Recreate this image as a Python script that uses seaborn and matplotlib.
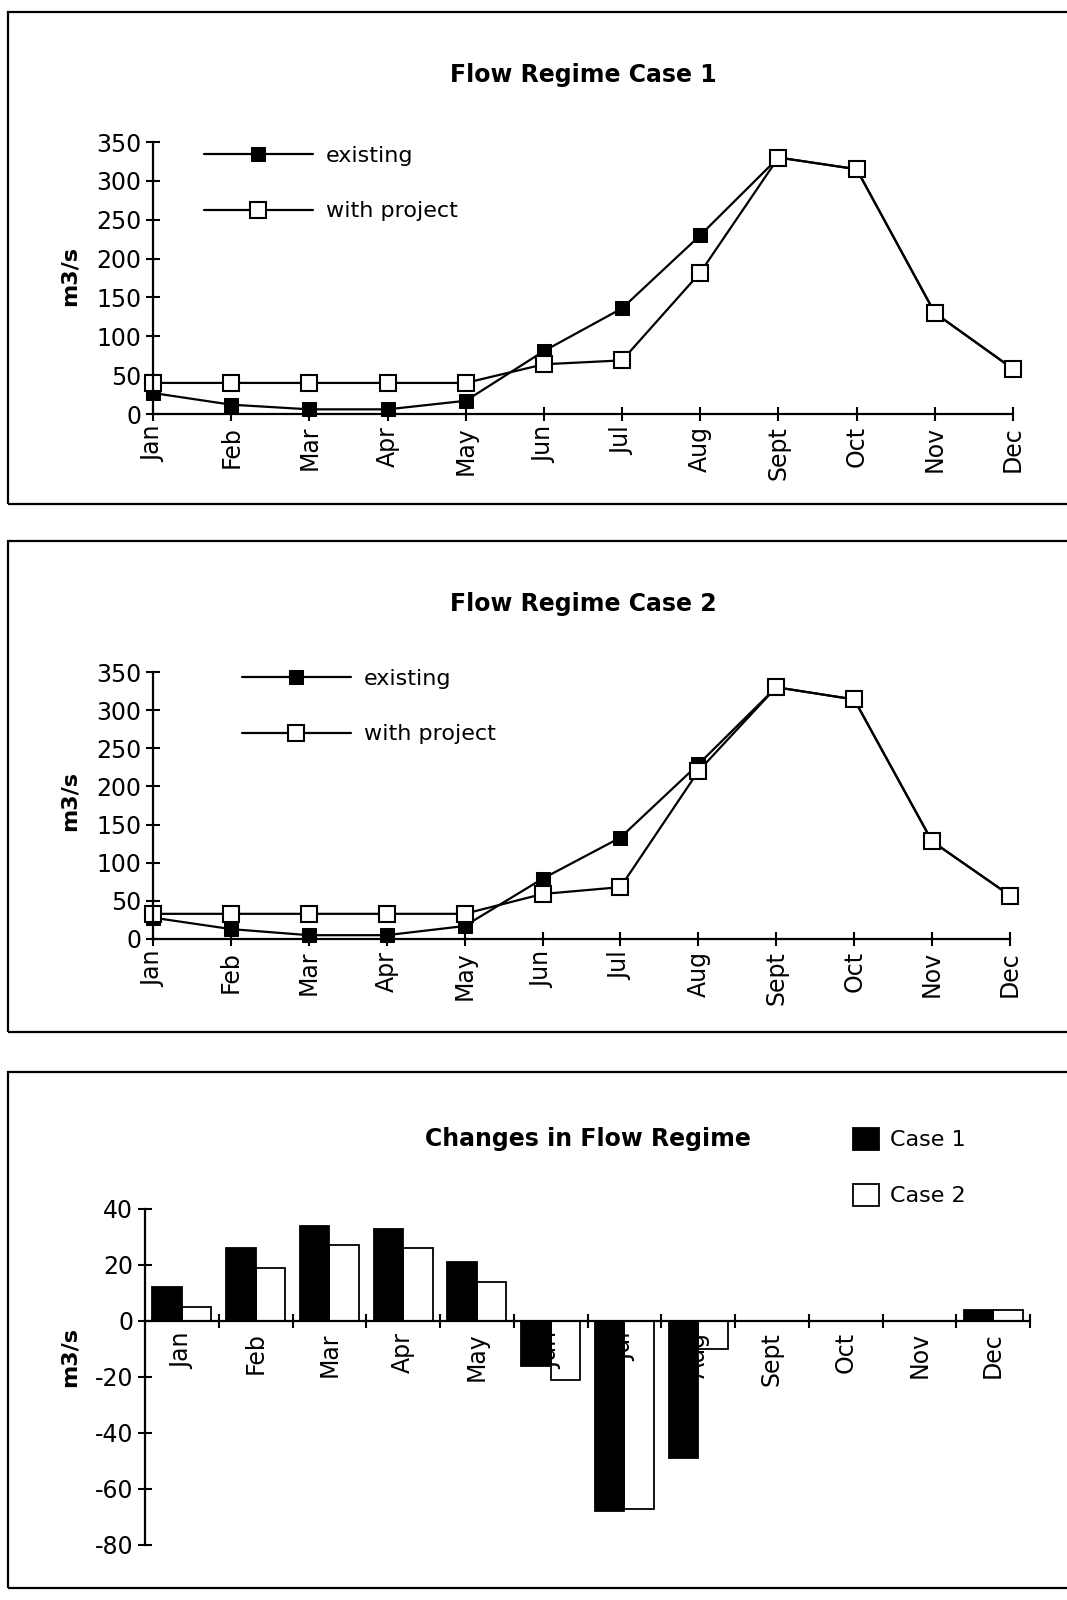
import numpy as np
import pandas as pd
import matplotlib
matplotlib.use("Agg")
import matplotlib.pyplot as plt
import seaborn as sns
from matplotlib.patches import Rectangle

# values
months = ['Jan', 'Feb', 'Mar', 'Apr', 'May', 'Jun', 'Jul', 'Aug', 'Sept', 'Oct', 'Nov', 'Dec']
case1_existing = [27, 12, 6, 6, 17, 81, 136, 230, 330, 315, 130, 58]
case1_project = [40, 40, 40, 40, 40, 64, 69, 182, 330, 315, 130, 58]
case2_existing = [28, 13, 5, 5, 17, 79, 133, 229, 330, 314, 128, 57]
case2_project = [33, 33, 33, 33, 33, 59, 68, 220, 330, 314, 128, 57]
change_case1 = [12, 26, 34, 33, 21, -16, -68, -49, 0, 0, 0, 4]
change_case2 = [5, 19, 27, 26, 14, -21, -67, -10, 0, 0, 0, 4]

sns.set_theme(style="white")
plt.rcParams['font.family'] = ['DejaVu Sans']
plt.rcParams['text.color'] = 'black'
plt.rcParams['axes.labelcolor'] = 'black'
plt.rcParams['axes.unicode_minus'] = False

W, H = 1067, 1600
fig = plt.figure(figsize=(10.67, 16), dpi=100)


def fx(px):
    return px / W


def fy(py):
    return 1 - py / H


def style_axis(ax):
    for s in ['top', 'right']:
        ax.spines[s].set_visible(False)
    for s in ['left', 'bottom']:
        ax.spines[s].set_color('black')
        ax.spines[s].set_linewidth(1.6)
    ax.tick_params(axis='both', direction='inout', length=10, width=1.5,
                   colors='black', labelsize=17, left=True, bottom=True)
    ax.set_facecolor('none')
    ax.set_xlabel('')


def flow_panel(rect, existing, project, title, title_y, leg_x, leg_y, ylab_y):
    ax = fig.add_axes(rect)
    df = pd.DataFrame({'pos': np.arange(len(months)), 'existing': existing,
                       'with project': project})
    sns.lineplot(data=df, x='pos', y='existing', ax=ax, color='black', lw=1.6,
                 marker='s', markersize=10, markerfacecolor='black',
                 markeredgecolor='black', clip_on=False, label='existing')
    sns.lineplot(data=df, x='pos', y='with project', ax=ax, color='black', lw=1.6,
                 marker='s', markersize=11, markerfacecolor='white',
                 markeredgecolor='black', markeredgewidth=1.5, clip_on=False,
                 label='with project')
    ax.set_xlim(0, 11)
    ax.set_ylim(0, 350)
    ax.set_yticks(range(0, 351, 50))
    ax.set_xticks(range(12))
    ax.set_xticklabels(months, rotation=90)
    style_axis(ax)
    ax.set_ylabel('m3/s', fontsize=16, fontweight='bold', color='black')
    ax.yaxis.set_label_coords(fx(80), fy(ylab_y), transform=fig.transFigure)
    ax.legend(loc='center left', bbox_to_anchor=(leg_x, leg_y),
              bbox_transform=fig.transFigure, frameon=False, fontsize=16,
              handlelength=4.9, handletextpad=0.6, labelspacing=1.6,
              borderpad=0, borderaxespad=0, labelcolor='black')
    fig.text(fx(583), title_y, title, ha='center', va='center',
             fontsize=17, fontweight='bold', color='black')
    return ax


# panel 1
flow_panel([fx(153), fy(414), fx(860), 272 / H], case1_existing, case1_project,
           'Flow Regime Case 1', fy(75), fx(204), fy(183.5), 276)

# panel 2
flow_panel([fx(153), fy(939), fx(857), 267 / H], case2_existing, case2_project,
           'Flow Regime Case 2', fy(604), fx(242), fy(706.5), 801)

# panel 3: changes
ax3 = fig.add_axes([fx(145), fy(1545), fx(885), 336 / H])
bars = pd.DataFrame({
    'month': months * 2,
    'case': ['Case 1'] * 12 + ['Case 2'] * 12,
    'value': change_case1 + change_case2,
})
sns.barplot(data=bars, x='month', y='value', hue='case', order=months,
            palette=['black', 'white'], edgecolor='black', linewidth=1.3,
            width=0.8, ax=ax3)
# case 2 bars are outlines only, so the month labels show through
for p in ax3.containers[1]:
    p.set_facecolor('none')
ax3.set_xlim(-0.5, 11.5)
ax3.set_ylim(-80, 40)
ax3.set_yticks(range(-80, 41, 20))
style_axis(ax3)
ax3.spines['bottom'].set_position(('data', 0))
ax3.set_xticks(range(12))
ax3.set_xticklabels(months, rotation=90)
ax3.tick_params(axis='x', which='major', length=0, pad=8)
ax3.set_xticks(np.arange(0.5, 12, 1), minor=True)
ax3.tick_params(axis='x', which='minor', direction='inout', length=10,
                width=1.5, colors='black', bottom=True)
ax3.set_ylabel('m3/s', fontsize=16, fontweight='bold', color='black')
ax3.yaxis.set_label_coords(fx(80), fy(1357), transform=fig.transFigure)
ax3.legend(loc='center left', bbox_to_anchor=(fx(853), fy(1167)),
           bbox_transform=fig.transFigure, frameon=False, fontsize=16,
           handlelength=1.15, handleheight=1.15, handletextpad=0.5,
           labelspacing=1.5, borderpad=0, borderaxespad=0, labelcolor='black')
fig.text(fx(588), fy(1139), 'Changes in Flow Regime', ha='center', va='center',
         fontsize=17, fontweight='bold', color='black')

# frames around each chart
for top, bottom in [(12, 504), (541, 1032), (1072, 1588)]:
    fig.add_artist(Rectangle((fx(8), fy(bottom)), fx(1080), (bottom - top) / H,
                             transform=fig.transFigure, fill=False,
                             edgecolor='black', lw=1.6, clip_on=False))

fig.savefig('out.png', dpi=100, facecolor='white')
